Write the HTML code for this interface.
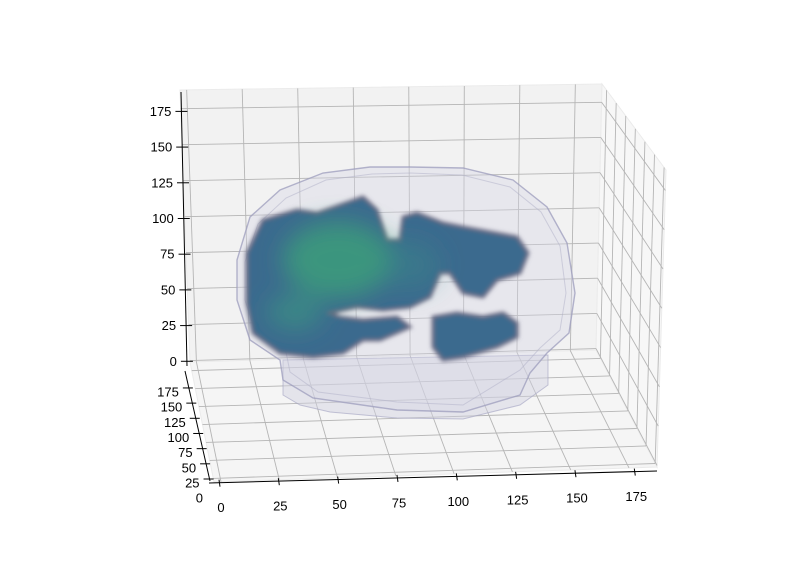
<!DOCTYPE html>
<html><head><meta charset="utf-8"><style>
html,body{margin:0;padding:0;background:#fff;}
svg{display:block;font-family:"Liberation Sans","DejaVu Sans",sans-serif;}
</style></head><body>
<svg id="chart" width="802" height="566" viewBox="0 0 802 566" xmlns="http://www.w3.org/2000/svg">
<defs>
<filter id="blur2" x="-20%" y="-20%" width="140%" height="140%"><feGaussianBlur stdDeviation="2.2"/></filter>
<filter id="blur6" x="-30%" y="-30%" width="160%" height="160%"><feGaussianBlur stdDeviation="12"/></filter>
</defs>
<g id="panes"></g>
<g id="grid"></g>
<g id="brain">
  <path d="M283,360 L283,395 L300,405 L330,412 L397,418 L463,419 L520,405 L548,385 L548,355 Z" fill="#d0d0e0" fill-opacity="0.45" stroke="#a0a0c0" stroke-opacity="0.6" stroke-width="1"/>
  <path d="M237,260 L250,217 L280,190 L323,173 L370,167 L410,167 L463,168 L513,180 L547,207 L567,243 L575,293 L569,333 L547,353 L530,373 L520,395 L463,412 L397,410 L313,398 L283,380 L280,360 L250,340 L237,300 Z" fill="#d4d4e4" fill-opacity="0.38" stroke="#9c9cbc" stroke-opacity="0.75" stroke-width="1.4"/>
  <path d="M245,262 L258,224 L286,198 L326,180 L372,174 L410,173 L462,175 L510,187 L541,212 L560,246 L566,293 L560,330 L540,348 L520,370 L463,405 L397,402 L318,392 L290,372 L286,352 L256,334 L245,300 Z" fill="none" stroke="#b0b0c8" stroke-opacity="0.5" stroke-width="1"/>
  <g filter="url(#blur2)">
    <path d="M247,253 L263,220 L297,210 L317,213 L363,197 L377,210 L387,240 L400,240 L403,217 L417,213 L443,223 L463,227 L517,237 L528,253 L520,273 L497,280 L483,297 L463,293 L450,273 L440,273 L430,297 L410,307 L383,310 L357,307 L330,313 L340,317 L363,320 L397,317 L410,327 L380,340 L363,340 L343,353 L313,357 L280,353 L253,333 L247,303 Z" fill="#3b6b8e" stroke="#6a6a82" stroke-width="3"/>
    <path d="M433,317 L457,313 L483,317 L503,313 L517,323 L517,337 L497,347 L463,357 L443,360 L433,347 Z" fill="#3b6b8e" stroke="#6a6a82" stroke-width="3"/>
  </g>
  <g filter="url(#blur6)">
    <ellipse cx="338" cy="260" rx="55" ry="38" fill="#3aa878" fill-opacity="0.7"/>
    <ellipse cx="295" cy="312" rx="28" ry="18" fill="#3a9e80" fill-opacity="0.55"/>
    <ellipse cx="410" cy="265" rx="30" ry="25" fill="#3a8a88" fill-opacity="0.4"/>
  </g>
</g>
<g id="axes"></g>
</svg>
<script>
const xTicks=[0,25,50,75,100,125,150,175];
const yTicks=[0,25,50,75,100,125,150,175];
const zTicks=[0,25,50,75,100,125,150,175];
const xLim=[-3,187], yLim=[20,187], zLim=[-1,188];
const NS="http://www.w3.org/2000/svg";
const C={
 "000":[214,482],"100":[657,467],"010":[190,362],"110":[596,350],
 "001":[160,200],"101":[666,170],"011":[180,90],"111":[602,84]};
function lerp(a,b,t){return [a[0]+(b[0]-a[0])*t,a[1]+(b[1]-a[1])*t];}
function P(x,y,z){
 const u=(x-xLim[0])/(xLim[1]-xLim[0]), v=(y-yLim[0])/(yLim[1]-yLim[0]), w=(z-zLim[0])/(zLim[1]-zLim[0]);
 const a=lerp(C["000"],C["100"],u), b=lerp(C["010"],C["110"],u),
       c=lerp(C["001"],C["101"],u), d=lerp(C["011"],C["111"],u);
 const e=lerp(a,b,v), f=lerp(c,d,v);
 return lerp(e,f,w);
}
function mk(tag,attrs,parent,name){const el=document.createElementNS(NS,tag);for(const k in attrs)el.setAttribute(k,attrs[k]);
 
 
 parent.appendChild(el);return el;}
function poly(pts){return pts.map(p=>p[0].toFixed(1)+","+p[1].toFixed(1)).join(" ");}
const panes=document.getElementById('panes'), grid=document.getElementById('grid'), axes=document.getElementById('axes');
const X0=xLim[0],X1=xLim[1],Y0=yLim[0],Y1=yLim[1],Z0=zLim[0],Z1=zLim[1];
mk('polygon',{points:poly([P(X0,Y1,Z0),P(X1,Y1,Z0),P(X1,Y1,Z1),P(X0,Y1,Z1)]),fill:'#f2f2f2',stroke:'#ebebeb'},panes,'back-pane');
mk('polygon',{points:poly([P(X1,Y0,Z0),P(X1,Y1,Z0),P(X1,Y1,Z1),P(X1,Y0,Z1)]),fill:'#f7f7f7',stroke:'#ebebeb'},panes,'side-pane');
mk('polygon',{points:poly([P(X0,Y0,Z0),P(X1,Y0,Z0),P(X1,Y1,Z0),P(X0,Y1,Z0)]),fill:'#f5f5f5',stroke:'#ebebeb'},panes,'floor-pane');
function gl(a,b,name){mk('line',{x1:a[0],y1:a[1],x2:b[0],y2:b[1],stroke:'#b5b5b5','stroke-width':0.9},grid,name);}
xTicks.forEach(x=>{gl(P(x,Y1,Z0),P(x,Y1,Z1),'back-grid-x');gl(P(x,Y0,Z0),P(x,Y1,Z0),'floor-grid-x');});
zTicks.forEach(z=>{gl(P(X0,Y1,z),P(X1,Y1,z),'back-grid-z');gl(P(X1,Y0,z),P(X1,Y1,z),'side-grid-z');});
yTicks.forEach(y=>{if(y<Y0)return;gl(P(X0,y,Z0),P(X1,y,Z0),'floor-grid-y');gl(P(X1,y,Z0),P(X1,y,Z1),'side-grid-y');});
function txt(x,y,s,anchor,name){const t=mk('text',{x:x,y:y,'font-size':13,fill:'#000','text-anchor':anchor,'dominant-baseline':'central'},axes,name);t.textContent=s;}
function ln(x1,y1,x2,y2,name){mk('line',{x1:x1,y1:y1,x2:x2,y2:y2,stroke:'#000','stroke-width':1},axes,name);}
const zA=[181,92],zB=[187,366];
ln(zA[0],zA[1],zB[0],zB[1],'z-axis-line');
function zPos(z){const t=(z-Z0)/(Z1-Z0);return lerp(zB,zA,t*0.985+0.012);}
zTicks.forEach(z=>{const p=zPos(z);ln(p[0]-6,p[1],p[0]+6,p[1],'z-tick');txt(p[0]-10,p[1],String(z),'end','z-tick-label');});
const yA=[210,481],yB=[185,371];
ln(yA[0],yA[1],yB[0],yB[1],'y-axis-line');
function yPos(y){const sy=479-(y-25)*0.607;const sx=yA[0]+(sy-yA[1])*(yB[0]-yA[0])/(yB[1]-yA[1]);return [sx,sy];}
yTicks.forEach(y=>{const p=yPos(y);if(y>=25)ln(p[0]-6,p[1],p[0]+4,p[1],'y-tick');txt(p[0]-10,p[1]+4,String(y),'end','y-tick-label');});
const xA=[209,483],xB=[657,471];
ln(xA[0],xA[1],xB[0],xB[1],'x-axis-line');
function xPos(x){const sx=219+x*2.373;const sy=xA[1]+(sx-xA[0])*(xB[1]-xA[1])/(xB[0]-xA[0]);return [sx,sy];}
xTicks.forEach(x=>{const p=xPos(x);ln(p[0],p[1]-3,p[0]+1,p[1]+4,'x-tick');txt(p[0]+2,p[1]+25,String(x),'middle','x-tick-label');});
</script>
</body></html>
